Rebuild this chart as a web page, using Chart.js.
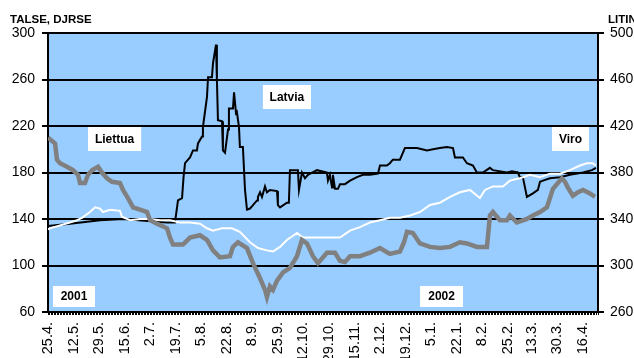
<!DOCTYPE html>
<html>
<head>
<meta charset="utf-8">
<script src="https://cdn.jsdelivr.net/npm/chart.js@4/dist/chart.umd.min.js"></script>
<style>
html,body{margin:0;padding:0;background:#fff;overflow:hidden;}
#wrap{width:634px;height:400px;}
canvas{display:block;}
</style>
</head>
<body>
<div id="wrap"><canvas id="c" width="634" height="400"></canvas></div>
<script>
// ---- tick labels (x axis: day offsets from 25.4.2001) ----
const tickLabels = ["25.4.","12.5.","29.5.","15.6.","2.7.","19.7.","5.8.","22.8.","8.9.","25.9.","12.10.","29.10.","15.11.","2.12.","19.12.","5.1.","22.1.","8.2.","25.2.","13.3.","30.3.","16.4."];
const tickDays   = [0,17,34,51,68,85,102,119,136,153,170,187,204,221,238,255,272,289,306,322,339,356];
const leftTicks  = [60,100,140,180,220,260,300];
const rightTicks = [260,300,340,380,420,460,500];

// ---- Latvia (DJRSE, left axis) ----
const latviaDays = [0,14.6,34.6,49.9,79,84.5,86.5,89.2,90.2,91.2,93.2,94.5,96.5,99.1,99.8,102.5,103.1,105.8,106.5,109.1,109.8,111.8,112.4,113.1,115.8,116.4,117.8,119.8,120.4,123.1,123.8,125.1,125.7,127.1,127.7,129.7,131.1,132.4,134.4,136.4,139.1,139.7,141.1,142.4,144.4,145.7,147.7,152.4,153,154.4,159,160.3,161,166.3,167,169,171,173,179,185.6,186.3,187.6,189,189.6,191,193,194.3,197.6,201,205.6,209.6,214.2,219.6,220.9,225.5,227.5,229.5,234.2,235.5,237.5,245.5,252.2,256.2,260.8,265.5,269.5,270.8,276.1,278.8,282.8,285.4,289.4,294.1,296.1,305.4,308.7,312.7,314,316,318.7,322.7,326,327.4,329.4,334,340.7,347.3,356,362,364.6];
const latviaVals = [134,136,139,140,137,137,156,158,176,188,191,193,199,199,205,211,219,245,262,262,274,290,260,225,224,199,197,217,235,235,249,231,232,219,202,202,165,148,149,152,156,159,163,159,168,163,165,164,152,150,154,154,182,182,165,180,175,178,182,180,173,178,167,178,166,166,170,170,173,176,178,178,179,186,186,188,191,191,195,201,201,199,200,201,202,201,193,193,188,186,180,180,184,182,180,181,180,176,176,159,162,165,172,173,175,176,178,180,182,184];

// ---- Viro (TALSE, left axis) ----
const viroDays = [0,1.3,14.6,19.3,22.6,27.9,31.3,34.6,36.6,41.3,47.9,49.2,54.6,61.2,67.9,74.5,81.2,87.8,94.5,101.1,105.8,109.8,115.8,122.4,127.7,134.4,139.7,145.7,149.7,154.4,159,165.7,169.7,179.6,187.6,194.3,201,207.6,214.2,220.9,227.5,234.2,240.9,247.5,254.2,260.8,267.5,274.1,280.8,287.4,290.8,296.1,302.7,307.4,314,320.7,327.4,334,340.7,347.3,354,358.6,362.6,364.6];
const viroVals = [131,132,137,139,141,146,150,149,146,148,147,142,139,140,140,139,139,137,137,136,132,130,132,132,129,120,115,113,112,116,122,128,124,124,124,124,130,133,137,139,141,141,143,146,152,154,159,163,165,158,165,168,168,173,175,178,176,179,179,182,186,188,188,186];

// ---- Liettua (LITIN, right axis) ----
const liettuaDays = [0,4.7,6,8,12.6,16.6,20,21.3,24.6,26.6,29.3,33.3,35.9,39.3,42.6,47.9,49.9,53.2,56.6,61.2,65.9,67.9,72.5,79.2,81.2,83.2,89.8,94.5,101.1,105.8,109.8,114.4,121.1,123.1,126.4,132.4,136.4,141.1,144.4,145.7,147.7,149.7,152.4,156.4,161,165.7,169,172.3,176.3,179.6,181,185.6,191,194.3,197.6,201,207.6,214.2,220.9,227.5,234.2,236.9,238.9,242.8,247.5,254.2,260.8,267.5,274.1,278.8,285.4,292.1,294.1,296.1,300.7,305.4,307.4,312,318.7,322.7,327.4,332,336,339.3,342,344,346,349.3,352.7,356,360.6,364];
const liettuaVals = [410,405,391,388,385,382,378,371,371,378,382,385,380,375,372,371,365,358,350,348,346,339,336,332,324,318,318,324,326,322,313,307,308,316,320,315,302,289,279,273,282,279,287,294,298,308,322,319,308,302,304,311,311,304,303,308,308,311,315,310,312,320,329,328,319,316,315,316,320,319,316,316,343,346,339,339,343,337,340,343,346,350,366,371,375,372,367,360,363,365,362,359];

// ---- in-chart labels (data coordinates, left axis units) ----
const boxLabels = [
  {text:"Liettua", x0:26.6, x1:62,  y0:198.5, y1:219.1},
  {text:"Latvia",  x0:143,  x1:175, y0:234.6, y1:255.3},
  {text:"Viro",    x0:335.4,x1:360, y0:198.5, y1:219.1},
  {text:"2001",    x0:3.3,  x1:31.3,y0:64.3,  y1:82.4},
  {text:"2002",    x0:247.6,x1:276.2,y0:64.3, y1:82.4}
];

const pts = (xs, ys) => xs.map((x, i) => ({x: x, y: ys[i]}));
const CANVAS_H = 400, PLOT_BOTTOM = 312;

Chart.defaults.font.family = "'Liberation Sans', Arial, sans-serif";
Chart.defaults.color = '#000';

const bgPlugin = {
  id: 'bg',
  beforeDraw(chart) {
    const {ctx, chartArea: a} = chart;
    ctx.save();
    ctx.fillStyle = '#99CCFF';
    ctx.fillRect(a.left, a.top, a.right - a.left, a.bottom - a.top);
    ctx.restore();
  }
};

const textPlugin = {
  id: 'texts',
  afterDatasetsDraw(chart) {
    const {ctx} = chart;
    const xs = chart.scales.x, ys = chart.scales.y;
    ctx.save();
    ctx.font = "bold 12px 'Liberation Sans', Arial, sans-serif";
    ctx.textAlign = 'center';
    ctx.textBaseline = 'middle';
    boxLabels.forEach(b => {
      const l = xs.getPixelForValue(b.x0), r = xs.getPixelForValue(b.x1);
      const t = ys.getPixelForValue(b.y1), btm = ys.getPixelForValue(b.y0);
      ctx.fillStyle = '#fff';
      ctx.fillRect(l, t, r - l, btm - t);
      ctx.fillStyle = '#000';
      ctx.fillText(b.text, (l + r) / 2, (t + btm) / 2 + 0.5);
    });
    ctx.font = "bold 11.5px 'Liberation Sans', Arial, sans-serif";
    ctx.textAlign = 'left';
    ctx.textBaseline = 'alphabetic';
    ctx.fillText("TALSE, DJRSE", 10, 23);
    ctx.fillText("LITIN", 608, 23);
    ctx.restore();
  }
};

new Chart(document.getElementById('c'), {
  type: 'line',
  data: {
    datasets: [
      {label: 'Liettua', data: pts(liettuaDays, liettuaVals), yAxisID: 'y2',
       borderColor: '#808080', borderWidth: 4.5, pointRadius: 0, tension: 0},
      {label: 'Viro', data: pts(viroDays, viroVals), yAxisID: 'y',
       borderColor: '#ffffff', borderWidth: 2, pointRadius: 0, tension: 0},
      {label: 'Latvia', data: pts(latviaDays, latviaVals), yAxisID: 'y',
       borderColor: '#000000', borderWidth: 2, pointRadius: 0, tension: 0}
    ]
  },
  options: {
    responsive: false,
    animation: false,
    layout: {padding: {top: 33, left: 0, right: 0, bottom: 0}},
    plugins: {legend: {display: false}, tooltip: {enabled: false}},
    scales: {
      x: {
        type: 'linear', position: 'bottom', min: 0, max: 366,
        afterBuildTicks: s => { s.ticks = Array.from({length: 367}, (_, d) => ({value: d})); },
        afterFit: s => { s.height = CANVAS_H - PLOT_BOTTOM; },
        ticks: {
          autoSkip: false, minRotation: 90, maxRotation: 90, padding: 7,
          font: {size: 14.5}, color: '#000',
          callback: v => { const k = tickDays.indexOf(v); return k >= 0 ? tickLabels[k] : ''; }
        },
        grid: {drawOnChartArea: false, drawTicks: true, tickLength: 3, color: '#000', lineWidth: 1},
        border: {display: true, color: '#000', width: 2}
      },
      y: {
        position: 'left', min: 60, max: 300,
        afterBuildTicks: s => { s.ticks = leftTicks.map(v => ({value: v})); },
        afterFit: s => { s.width = 48; },
        ticks: {font: {size: 14}, color: '#000', padding: 7},
        grid: {color: '#000', lineWidth: 2, tickLength: 6},
        border: {display: true, color: '#000', width: 2}
      },
      y2: {
        position: 'right', min: 260, max: 500,
        afterBuildTicks: s => { s.ticks = rightTicks.map(v => ({value: v})); },
        afterFit: s => { s.width = 36; },
        ticks: {font: {size: 14}, color: '#000', padding: 6},
        grid: {drawOnChartArea: false, color: '#000', lineWidth: 2, tickLength: 6},
        border: {display: true, color: '#000', width: 2}
      }
    }
  },
  plugins: [bgPlugin, textPlugin]
});
</script>
</body>
</html>
